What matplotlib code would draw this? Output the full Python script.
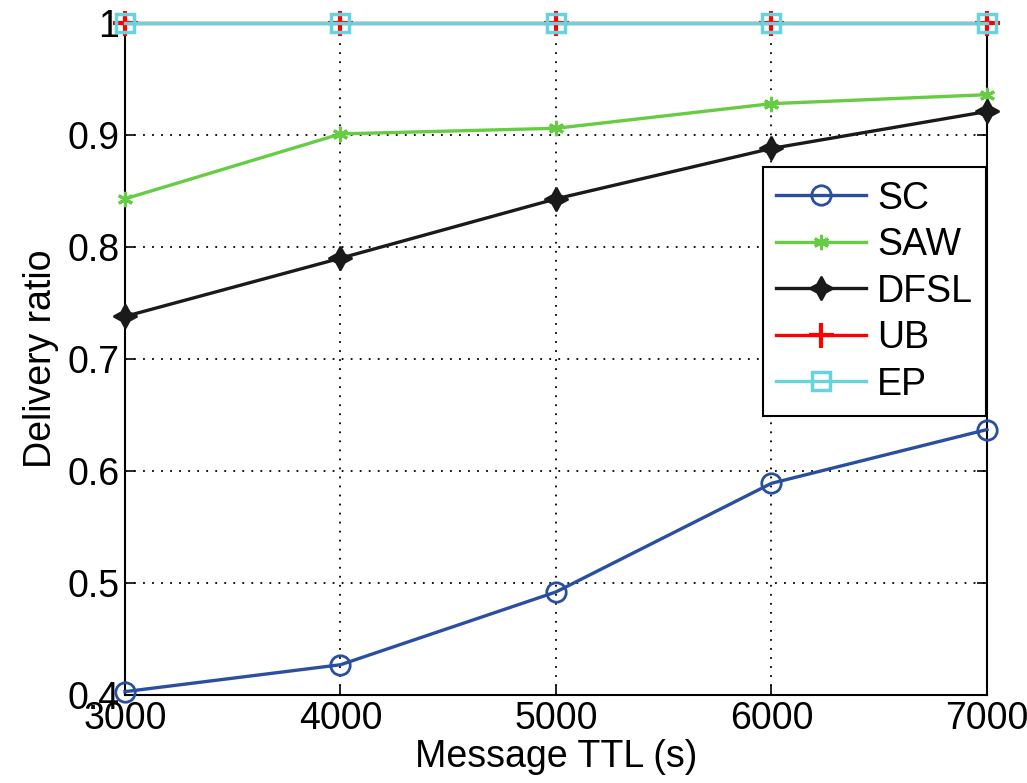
import matplotlib.pyplot as plt

plt.rcParams['font.family'] = ['Liberation Sans', 'DejaVu Sans']

ttl = [3000, 4000, 5000, 6000, 7000]
sc = [0.403, 0.427, 0.492, 0.589, 0.637]
saw = [0.843, 0.901, 0.906, 0.928, 0.936]
dfsl = [0.738, 0.790, 0.843, 0.888, 0.921]
ub = [1.0, 1.0, 1.0, 1.0, 1.0]
ep = [1.0, 1.0, 1.0, 1.0, 1.0]

yticks = [0.4, 0.5, 0.6, 0.7, 0.8, 0.9, 1.0]
ytick_labels = ['0.4', '0.5', '0.6', '0.7', '0.8', '0.9', '1']

fig = plt.figure(figsize=(10.27, 7.83), dpi=100)
ax = fig.add_axes([0.1217, 0.1124, 0.8393, 0.8582])

lw = 2.4
ax.plot(ttl, sc, color='#2b4fa0', lw=lw, marker='o', ms=14, mfc='none', mew=2,
        label='SC', clip_on=False, zorder=3)
ax.plot(ttl, saw, color='#66cc44', lw=lw, marker=(6, 2, 0), ms=11, mew=2.2,
        label='SAW', clip_on=False, zorder=3)
ax.plot(ttl, dfsl, color='#1a1a1a', lw=lw, marker=(4, 1, 0), ms=17, mew=1.5,
        label='DFSL', clip_on=False, zorder=3)
ax.plot(ttl, ub, color='#ff0000', lw=lw, marker='+', ms=18, mew=3,
        label='UB', clip_on=False, zorder=3)
ax.plot(ttl, ep, color='#66d4dd', lw=lw, marker='s', ms=13, mfc='none', mew=2.5,
        label='EP', clip_on=False, zorder=4)

ax.set_xlim(3000, 7000)
ax.set_ylim(0.4, 1.0)
ax.set_xticks(ttl)
ax.set_yticks(yticks)
ax.set_yticklabels(ytick_labels)
ax.grid(True, color='black', linestyle=(0, (1, 4)), lw=1.3)
ax.tick_params(direction='in', length=7, width=1.2, labelsize=27, pad=4,
               top=True, right=True)
for s in ax.spines.values():
    s.set_linewidth(1.5)

ax.set_xlabel('Message TTL (s)', fontsize=27, labelpad=2)
ax.set_ylabel('Delivery ratio', fontsize=27, labelpad=6)

leg = ax.legend(loc='upper left', bbox_to_anchor=(0.74, 0.785), fontsize=27,
                frameon=True, fancybox=False, edgecolor='black', framealpha=1,
                handlelength=2.4, handletextpad=0.3, labelspacing=0.28,
                borderpad=0.35, borderaxespad=0)
leg.get_frame().set_linewidth(1.5)

fig.savefig('out.png', dpi=100)
